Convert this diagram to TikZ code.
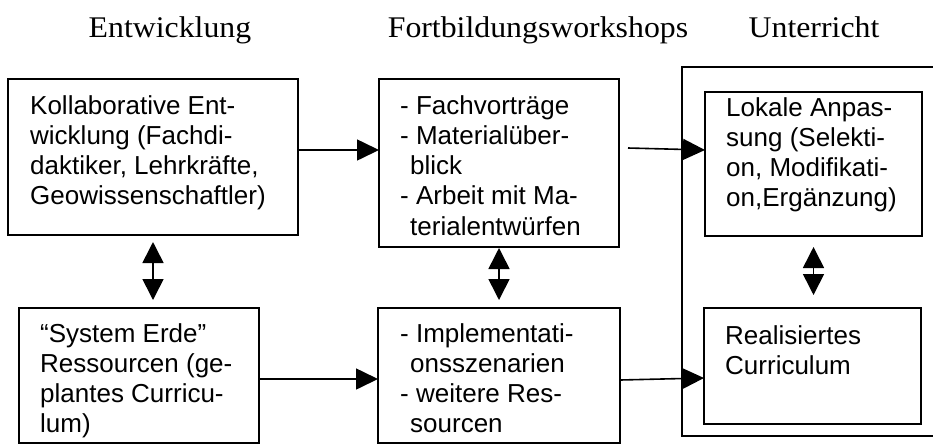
\documentclass[tikz,border=0pt]{standalone}
\usepackage{fontspec}
\setmainfont{Liberation Serif}[FakeStretch=1.06]
\setsansfont{Liberation Sans}
\usetikzlibrary{arrows.meta,calc}
\begin{document}
\begin{tikzpicture}[x=1pt,y=-1pt,
  box/.style={draw, line width=1.6pt, inner sep=0pt, outer sep=0pt},
  head/.style={inner sep=0pt, anchor=base, font=\rmfamily\fontsize{30}{36}\selectfont},
  txt/.style={inner sep=0pt, anchor=base west, font=\sffamily\fontsize{26}{30.3}\selectfont},
  arr/.style={line width=1.6pt, -{Triangle[length=22pt,width=21pt]}},
  dbl/.style={line width=1.6pt, {Triangle[length=21pt,width=21pt]}-{Triangle[length=21pt,width=21pt]}}]
\useasboundingbox (0,0) rectangle (933,445);
% headings
\node[head] (h1) at (170,37) {Entwicklung};
\node[head] (h2) at (538,37) {Fortbildungsworkshops};
\node[head] (h3) at (814,37) {Unterricht};
% boxes
\node[box, minimum width=290pt, minimum height=156pt] (b1) at (153,157) {};
\node[box, minimum width=240pt, minimum height=168pt] (b2) at (499,163) {};
\node[box, minimum width=240pt, minimum height=135pt] (b3) at (139,375.5) {};
\node[box, minimum width=242pt, minimum height=135pt] (b4) at (499,375.5) {};
\node[box, minimum width=263pt, minimum height=369pt] (out) at (813.5,251.5) {};
\node[box, minimum width=217pt, minimum height=144pt] (lok) at (813.5,164) {};
\node[box, minimum width=217pt, minimum height=116pt] (real) at (812.5,366) {};
% texts
\node[txt] (t1) at (30,114) {\vtop{\hbox{Kollaborative Ent-}\hbox{wicklung (Fachdi-}\hbox{daktiker, Lehrkräfte,}\hbox{Geowissenschaftler)}}};
\node[txt] (t2) at (400,114) {\vtop{\hbox{- Fachvorträge}\hbox{- Materialüber-}\hbox{\hskip10pt blick}\hbox{- Arbeit mit Ma-}\hbox{\hskip10pt terialentwürfen}}};
\node[txt] (t3) at (40,342) {\vtop{\hbox{“System Erde”}\hbox{Ressourcen (ge-}\hbox{plantes Curricu-}\hbox{lum)}}};
\node[txt] (t4) at (400,342) {\vtop{\hbox{- Implementati-}\hbox{\hskip10pt onsszenarien}\hbox{- weitere Res-}\hbox{\hskip10pt sourcen}}};
\node[txt] (t5) at (726,116) {\vtop{\hbox{Lokale Anpas-}\hbox{sung (Selekti-}\hbox{on, Modifikati-}\hbox{on,Ergänzung)}}};
\node[txt] (t6) at (725,344) {\vtop{\hbox{Realisiertes}\hbox{Curriculum}}};
% connectors
\draw[arr] ($(b1.east)+(0,-7)$) -- ($(b2.west)+(0,-13)$);
\draw[arr] ($(b2.east)+(9,-15)$) -- ($(lok.west)+(0,-14)$);
\draw[arr] ($(b3.east)+(0,3.5)$) -- ($(b4.west)+(0,3.5)$);
\draw[arr] ($(b4.east)+(0,4.5)$) -- ($(real.west)+(0,12)$);
\draw[dbl, shorten <=7pt, shorten >=8pt] (b1.south) -- (b1.south |- b3.north);
\draw[dbl, shorten <=1pt, shorten >=8pt] (b2.south) -- (b4.north);
\draw[dbl, shorten <=11pt, shorten >=13pt] (lok.south) -- (lok.south |- real.north);
\end{tikzpicture}
\end{document}
